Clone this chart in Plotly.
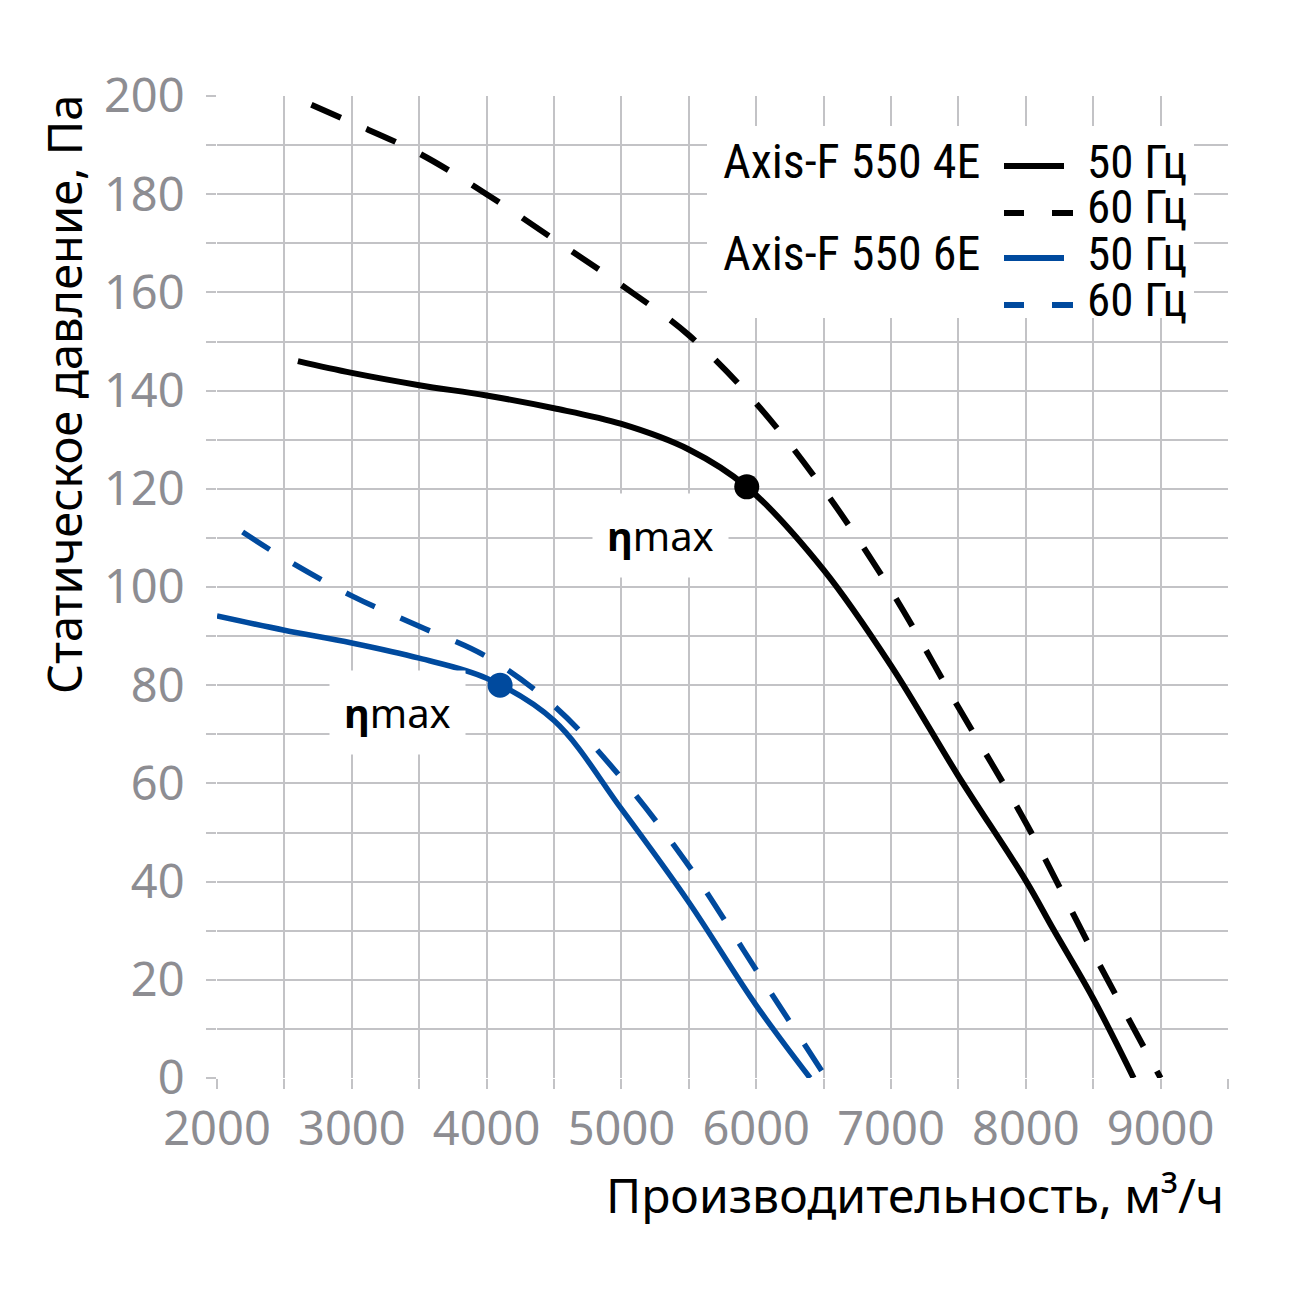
import plotly.graph_objects as go

# ---- data ----
q_4e_50 = [2600, 3000, 3500, 4000, 4500, 5000, 5500, 5930, 6500, 7000, 7500, 8000, 8200, 8500, 8800]
p_4e_50 = [146, 143.6, 141.1, 139, 136.4, 133.2, 128, 120.4, 103.5, 84, 61.5, 40.2, 30.5, 16.2, 0]

q_4e_60 = [2700, 3000, 3500, 4000, 4500, 5000, 5500, 6000, 6500, 7000, 7500, 8000, 8500, 9000]
p_4e_60 = [198.2, 194.6, 188.3, 180, 170.8, 161.5, 151.3, 137.4, 119.9, 99.3, 75.5, 52, 25.5, 0]

q_6e_50 = [2000, 2500, 3000, 3500, 4000, 4500, 5000, 5500, 6000, 6400]
p_6e_50 = [94.1, 91.2, 88.6, 85.5, 81.4, 72.8, 54.8, 35.8, 14.8, 0]

q_6e_60 = [2190, 2500, 3000, 3500, 4000, 4500, 5000, 5500, 6000, 6520]
p_6e_60 = [111.2, 105.8, 98.2, 92, 85.8, 75.8, 61.1, 43.2, 22, 0]

eta_4e_q, eta_4e_p = [5930], [120.4]
eta_6e_q, eta_6e_p = [4100], [80]

x_tickvals = list(range(2000, 9501, 500))
x_ticktext = [str(v) if v % 1000 == 0 else "" for v in x_tickvals]
y_tickvals = list(range(0, 201, 10))
y_ticktext = [str(v) if v % 20 == 0 else "" for v in y_tickvals]

legend_models = ["Axis-F 550 4E", "Axis-F 550 6E"]
legend_freqs = ["50 Гц", "60 Гц"]

BLACK = "#000000"
BLUE = "#004a9e"
GRID = "#c3c3c6"
TICKC = "#8d8d92"
LEGFONT = "Liberation Sans Narrow, Roboto Condensed, Roboto"
SMOOTH = 1.0

W, H = 1300, 1300
L, R, T, B = 217, 72, 96, 222


def px(xp):
    return (xp - L) / (W - L - R)


def py(yp):
    return (H - B - yp) / (H - T - B)


fig = go.Figure()
fig.add_trace(go.Scatter(x=q_4e_60, y=p_4e_60, mode="lines",
                         line=dict(color=BLACK, width=6, dash="32px,28px", shape="spline", smoothing=SMOOTH)))
fig.add_trace(go.Scatter(x=q_4e_50, y=p_4e_50, mode="lines",
                         line=dict(color=BLACK, width=6, shape="spline", smoothing=SMOOTH)))
fig.add_trace(go.Scatter(x=q_6e_60, y=p_6e_60, mode="lines",
                         line=dict(color=BLUE, width=5.5, dash="32px,28px", shape="spline", smoothing=SMOOTH)))
fig.add_trace(go.Scatter(x=q_6e_50, y=p_6e_50, mode="lines",
                         line=dict(color=BLUE, width=5.5, shape="spline", smoothing=SMOOTH)))
fig.add_trace(go.Scatter(x=eta_4e_q, y=eta_4e_p, mode="markers",
                         marker=dict(color=BLACK, size=25)))
fig.add_trace(go.Scatter(x=eta_6e_q, y=eta_6e_p, mode="markers",
                         marker=dict(color=BLUE, size=25)))

shapes = []
annotations = []

# legend white box
shapes.append(dict(type="rect", xref="paper", yref="paper",
                   x0=px(707), x1=px(1194), y0=py(318), y1=py(126),
                   fillcolor="white", line=dict(width=0), layer="above"))

rows_y = [161, 207, 253, 299]
line_colors = [BLACK, BLACK, BLUE, BLUE]
for i, yy in enumerate(rows_y):
    c = line_colors[i]
    if i % 2 == 0:
        shapes.append(dict(type="line", xref="paper", yref="paper",
                           x0=px(1004), x1=px(1064), y0=py(yy + 5), y1=py(yy + 5),
                           line=dict(color=c, width=6), layer="above"))
    else:
        for a, b in [(1004, 1024), (1052, 1073)]:
            shapes.append(dict(type="line", xref="paper", yref="paper",
                               x0=px(a), x1=px(b), y0=py(yy + 6), y1=py(yy + 6),
                               line=dict(color=c, width=6), layer="above"))
    annotations.append(dict(xref="paper", yref="paper", x=px(1188), y=py(yy),
                            xanchor="right", yanchor="middle", showarrow=False,
                            text=legend_freqs[i % 2], borderpad=0,
                            font=dict(family=LEGFONT, size=47, color=BLACK)))
for j, yy in enumerate([rows_y[0], rows_y[2]]):
    annotations.append(dict(xref="paper", yref="paper", x=px(722), y=py(yy),
                            xanchor="left", yanchor="middle", showarrow=False,
                            text=legend_models[j], borderpad=0,
                            font=dict(family=LEGFONT, size=48, color=BLACK)))

# eta max labels
for (cx, cy) in [(660, 535), (397, 712)]:
    annotations.append(dict(xref="paper", yref="paper", x=px(cx), y=py(cy),
                            xanchor="center", yanchor="middle", showarrow=False,
                            text="<b>η</b>max", bgcolor="white", borderpad=14,
                            font=dict(family="Noto Sans", size=40, color=BLACK)))

# axis titles
annotations.append(dict(xref="paper", yref="paper", x=px(1226), y=py(1194),
                        xanchor="right", yanchor="middle", showarrow=False,
                        text="Производительность, м³/ч",
                        font=dict(family="Noto Sans", size=48, color=BLACK)))
annotations.append(dict(xref="paper", yref="paper", x=px(64), y=py(395),
                        xanchor="center", yanchor="middle", showarrow=False, textangle=-90,
                        text="Статическое давление, Па",
                        font=dict(family="Noto Sans", size=47, color=BLACK)))

fig.update_layout(
    width=W, height=H,
    margin=dict(l=L, r=R, t=T, b=B),
    plot_bgcolor="white", paper_bgcolor="white",
    showlegend=False,
    shapes=shapes, annotations=annotations,
    xaxis=dict(range=[2000, 9500], tickvals=x_tickvals, ticktext=x_ticktext,
               showgrid=True, gridcolor=GRID, gridwidth=2,
               ticks="outside", ticklen=10, tickwidth=2, tickcolor=GRID,
               showline=False, zeroline=False,
               tickfont=dict(family="Noto Sans", size=47, color=TICKC)),
    yaxis=dict(range=[0, 200], tickvals=y_tickvals, ticktext=y_ticktext,
               showgrid=True, gridcolor=GRID, gridwidth=2,
               ticks="outside", ticklen=10, tickwidth=2, tickcolor=GRID,
               showline=False, zeroline=False, ticklabelstandoff=12,
               tickfont=dict(family="Noto Sans", size=47, color=TICKC)),
)

fig.write_html("out.html", config={"displayModeBar": False},
               post_script="document.body.style.margin='0';")
